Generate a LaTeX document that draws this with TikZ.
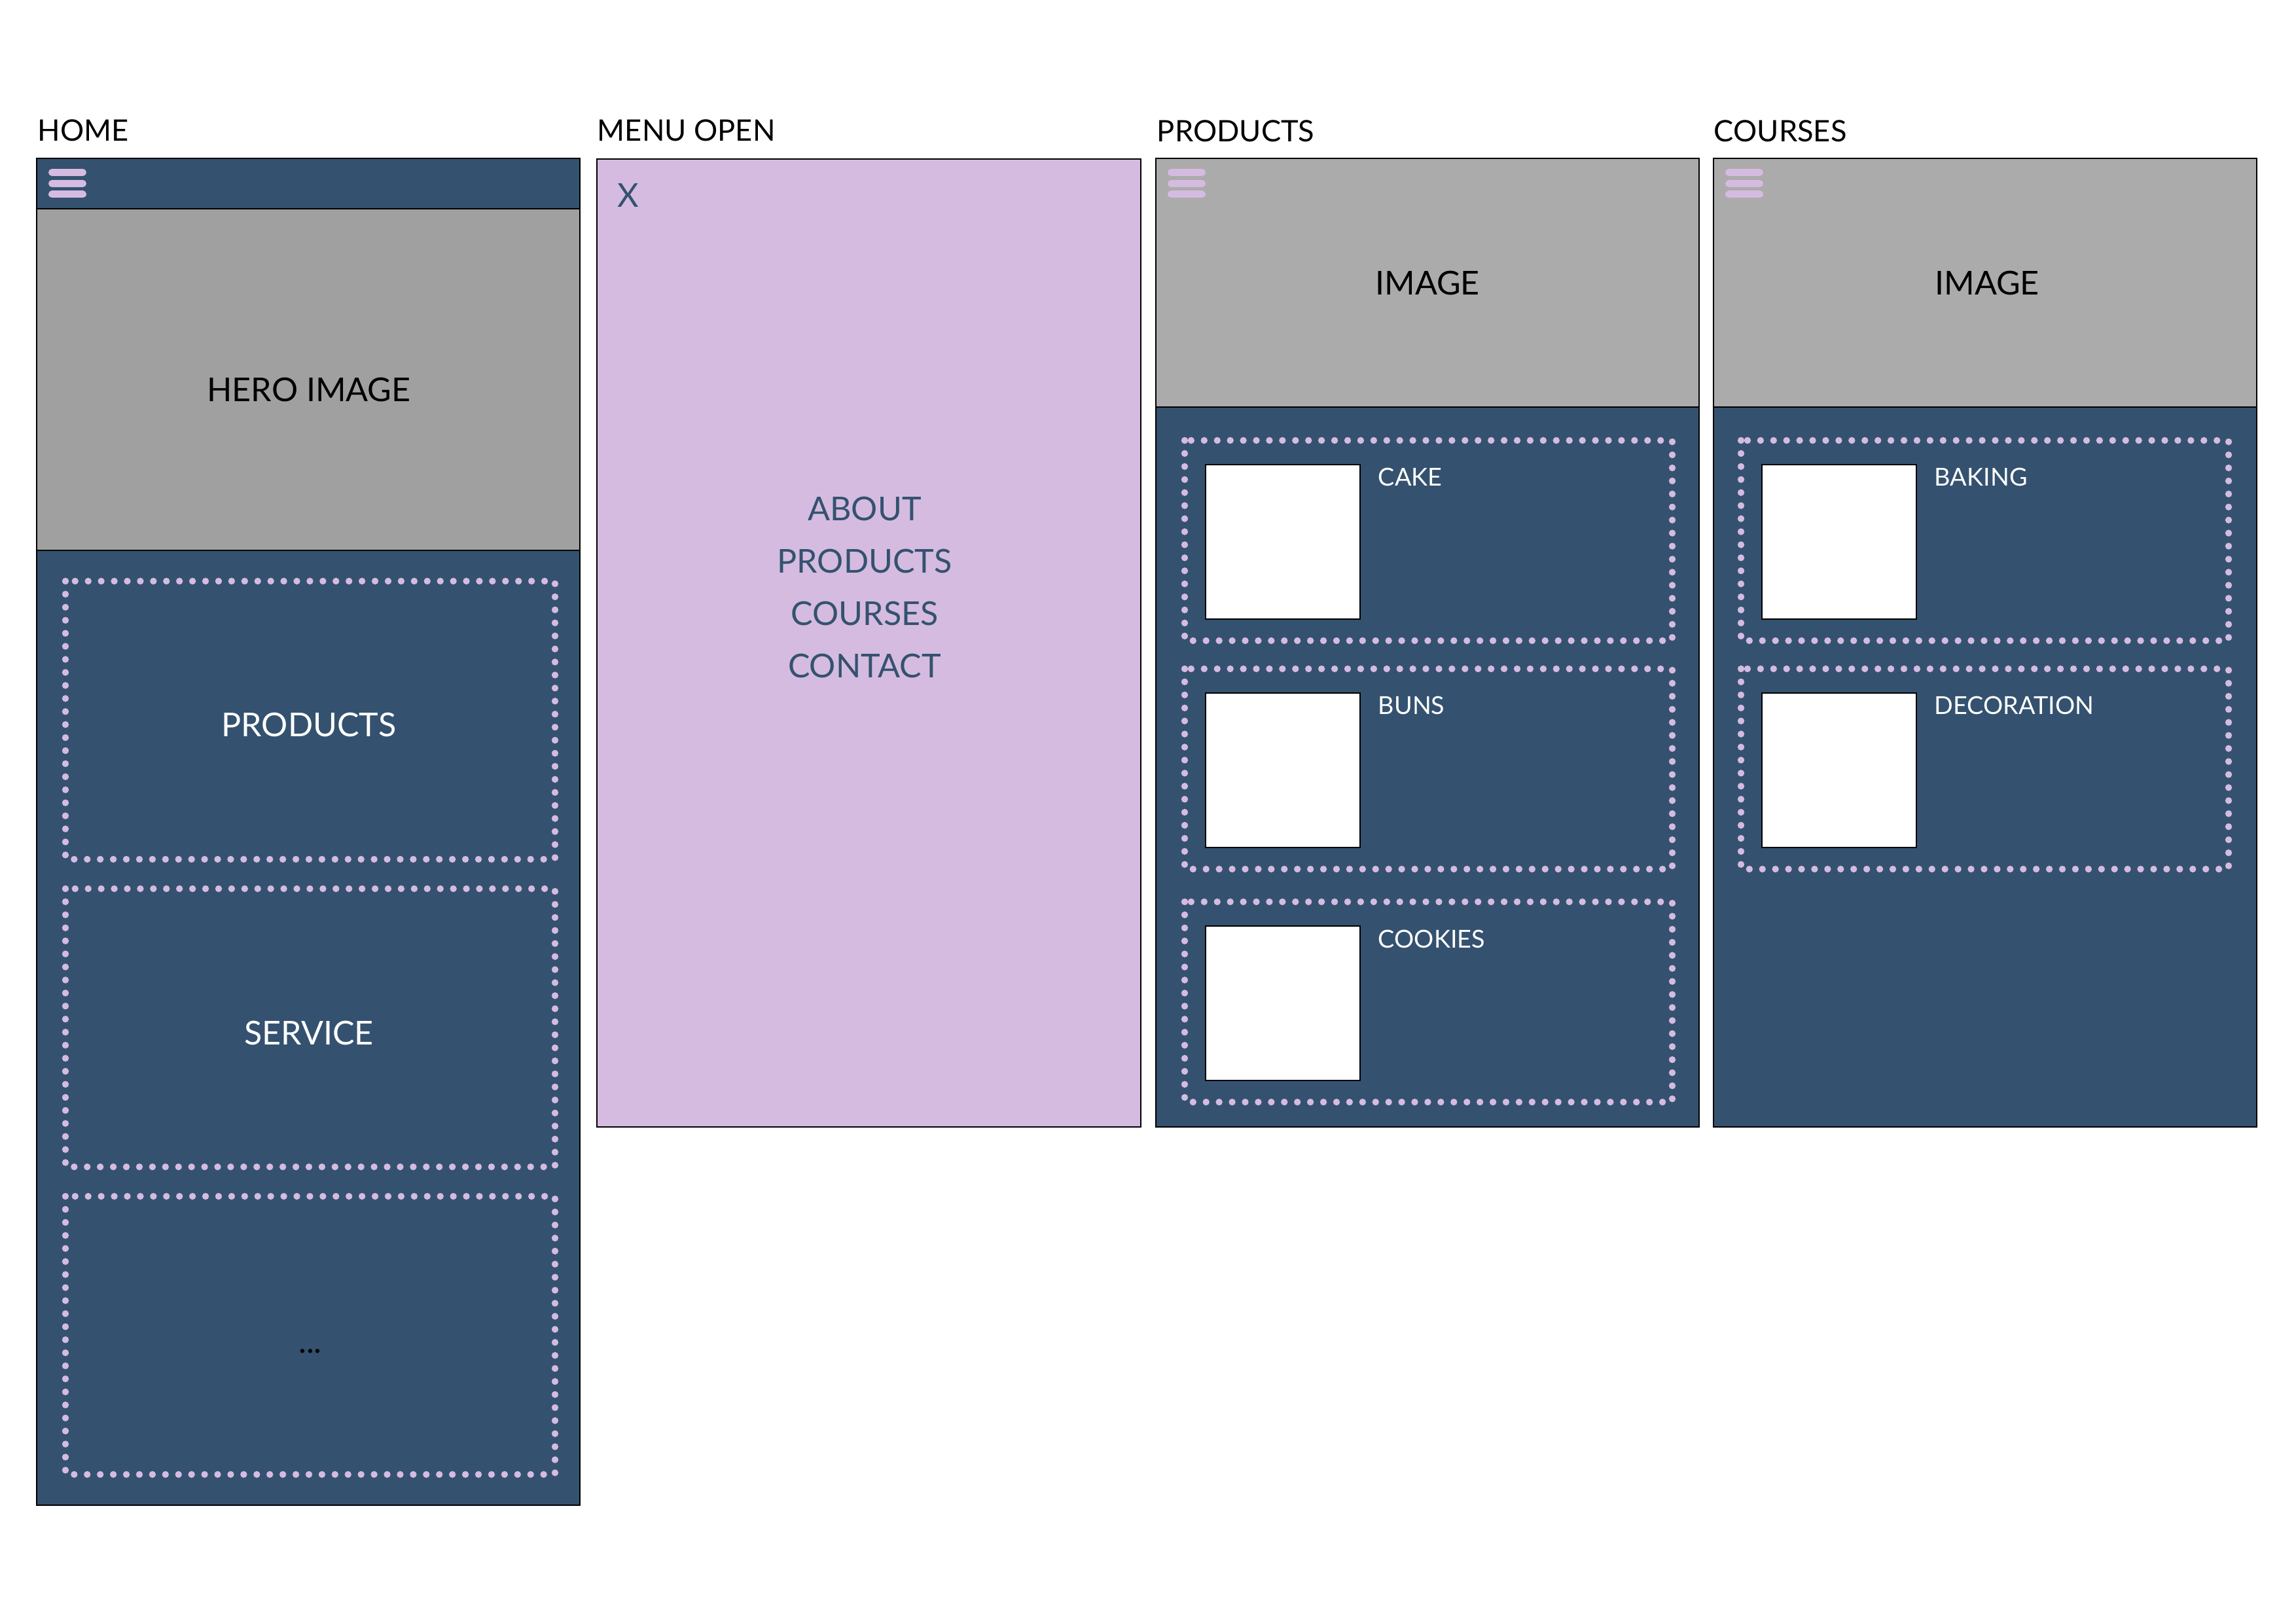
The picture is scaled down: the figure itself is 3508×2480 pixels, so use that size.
\documentclass[tikz,border=0pt]{standalone}
\usepackage{fontspec}
\setmainfont{Lato}
\definecolor{navy}{HTML}{34526F}
\definecolor{lilac}{HTML}{D5BBE0}
\definecolor{herogray}{HTML}{A0A0A0}
\definecolor{imggray}{HTML}{ABABAB}

\begin{document}
\begin{tikzpicture}[
    x=0.084664mm, y=-0.084664mm,
    panel/.style={draw=black, line width=0.35pt},
    dots/.style={draw=lilac, line width=2.5pt, line cap=round, dash pattern=on 0pt off 4.8pt},
    burger/.style={draw=lilac, line width=2.65pt, line cap=round},
    thumb/.style={draw=black, fill=white, line width=0.35pt},
    title/.style={font=\fontsize{10.9}{13}\selectfont, anchor=base west, inner sep=0pt},
    big/.style={font=\fontsize{12.1}{14}\selectfont, anchor=base, inner sep=0pt},
    item/.style={font=\fontsize{9.1}{11}\selectfont, text=white, anchor=base west, inner sep=0pt}
  ]
  \useasboundingbox (0,0) rectangle (3508,2480);

  % page titles
  \node[title] (home) at (57,216) {HOME};
  \node[title] (menu) at (912,216) {MENU OPEN};
  \node[title] (products) at (1767,217) {PRODUCTS};
  \node[title] (courses) at (2618,217) {COURSES};

  % home screen
  \fill[navy] (56,242) rectangle (886,2300);
  \fill[herogray] (56,319) rectangle (886,841);
  \draw[panel] (56,319) -- (886,319) (56,841) -- (886,841);
  \draw[panel] (56,242) rectangle (886,2300);
  \node[big] (hero) at (472,614) {HERO IMAGE};
  \foreach \top/\name/\txt in {888/hprod/PRODUCTS, 1358/hserv/SERVICE}{
    \draw[dots] (100,\top) rectangle (848,\top+425);
    \node[big, text=white] (\name) at (472,\top+238) {\txt};
  }
  \draw[dots] (100,1828) rectangle (848,2253);
  \node[big] (hmore) at (474,2067) {...};

  % menu open
  \draw[panel, fill=lilac] (912,243) rectangle (1743,1722);
  \node[big, text=navy] (close) at (960,317) {X};
  \foreach \txt/\name [count=\i] in {ABOUT/about, PRODUCTS/mprod, COURSES/mcourse, CONTACT/contact}
    \node[big, text=navy] (\name) at (1321,716+80*\i) {\txt};

  % products
  \fill[navy] (1766,242) rectangle (2596,1722);
  \fill[imggray] (1766,242) rectangle (2596,622);
  \draw[panel] (1766,622) -- (2596,622);
  \draw[panel] (1766,242) rectangle (2596,1722);
  \node[big] (pimage) at (2181,451) {IMAGE};
  \foreach \top/\name/\txt in {673/cake/CAKE, 1022/buns/BUNS, 1378/cookies/COOKIES}{
    \draw[dots] (1810,\top) rectangle (2555,\top+306);
    \draw[thumb] (1842,\top+37) rectangle (2078,\top+273);
    \node[item] (\name) at (2105,\top+70) {\txt};
  }

  % courses
  \fill[navy] (2618,242) rectangle (3448,1722);
  \fill[imggray] (2618,242) rectangle (3448,622);
  \draw[panel] (2618,622) -- (3448,622);
  \draw[panel] (2618,242) rectangle (3448,1722);
  \node[big] (cimage) at (3036,451) {IMAGE};
  \foreach \top/\name/\txt in {673/baking/BAKING, 1022/decoration/DECORATION}{
    \draw[dots] (2660,\top) rectangle (3405,\top+306);
    \draw[thumb] (2692,\top+37) rectangle (2928,\top+273);
    \node[item] (\name) at (2955,\top+70) {\txt};
  }

  % hamburger icons
  \foreach \px in {56,1766,2618}
    \foreach \y in {263.5,280.5,297}
      \draw[burger] (\px+23.5,\y) -- (\px+70.5,\y);
\end{tikzpicture}
\end{document}
